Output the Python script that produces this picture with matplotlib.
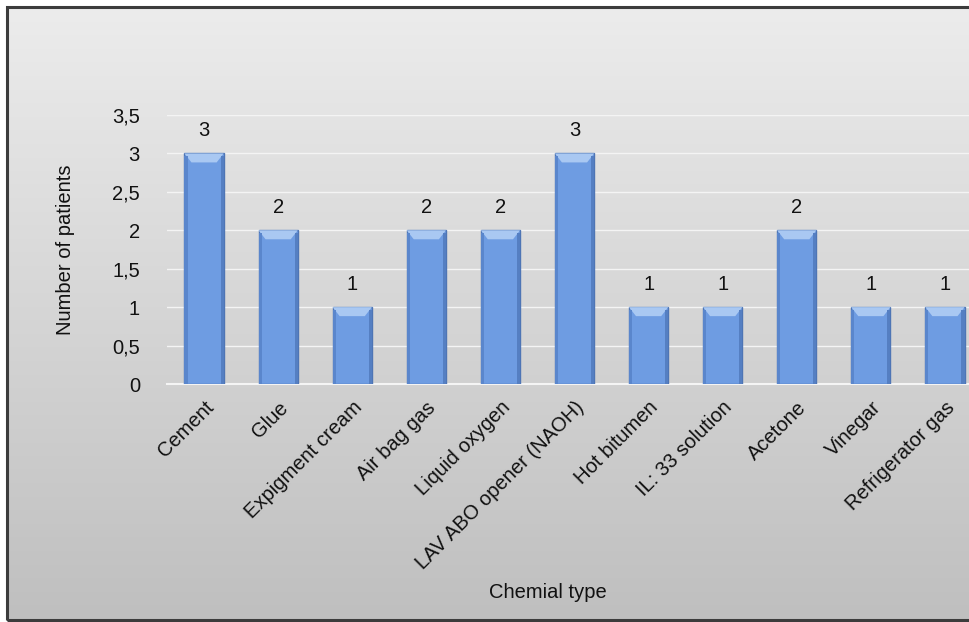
import numpy as np
import matplotlib
matplotlib.use("Agg")
import matplotlib.pyplot as plt
from matplotlib.patches import Rectangle, Polygon
from matplotlib.colors import LinearSegmentedColormap

plt.rcParams['font.family'] = ['Liberation Sans', 'DejaVu Sans']

categories = ["Cement", "Glue", "Expigment cream", "Air bag gas", "Liquid oxygen",
              "LAV ABO opener (NAOH)", "Hot bitumen", "IL: 33 solution", "Acetone",
              "Vinegar", "Refrigerator gas"]
patients = [3, 2, 1, 2, 2, 3, 1, 1, 2, 1, 1]
y_ticks = [0, 0.5, 1, 1.5, 2, 2.5, 3, 3.5]
y_tick_labels = ["0", "0,5", "1", "1,5", "2", "2,5", "3", "3,5"]

FS = 14.5
W, H = 970, 622
fig = plt.figure(figsize=(W / 100, H / 100), dpi=100)

# Chart area background: vertical grey gradient inside a dark frame
bg = fig.add_axes([0, 0, 1, 1], zorder=0)
bg.set_axis_off()
grad = np.linspace(0, 1, 256).reshape(-1, 1)
cmap_bg = LinearSegmentedColormap.from_list("bg", ["#ececec", "#bfbfbf"])
x0, y0, x1, y1 = 7 / W, 2 / H, 1.02, 1 - 7 / H
bg.imshow(grad, cmap=cmap_bg, aspect="auto", extent=[x0, x1, y0, y1],
          transform=bg.transAxes, zorder=0)
bg.set_xlim(0, 1)
bg.set_ylim(0, 1)
bg.add_patch(Rectangle((x0, y0), x1 - x0, y1 - y0, fill=False,
                       edgecolor="#3c3c3c", linewidth=2.2, transform=bg.transAxes))

# Plot area
ax = fig.add_axes([167 / W, 1 - 384 / H, (982 - 167) / W, (384 - 115) / H], zorder=1)
ax.patch.set_alpha(0)
x = np.arange(len(categories))
bar_w = 0.53
bars = ax.bar(x, patients, width=bar_w, color="#6e9ce2", edgecolor="#4e75b5",
              linewidth=1.0, zorder=3)

# Bevel highlight at the top of each bar, derived from the bar geometry
px_per_unit = (384 - 115) / 3.5
bev_h = 9 / px_per_unit
bev_in = bar_w * 7 / 39
for b in bars:
    bx, bw, bh = b.get_x(), b.get_width(), b.get_height()
    top = Polygon([(bx, bh), (bx + bw, bh), (bx + bw - bev_in, bh - bev_h),
                   (bx + bev_in, bh - bev_h)], closed=True,
                  facecolor="#a9c8f2", edgecolor="none", zorder=4)
    ax.add_patch(top)
    left = Rectangle((bx, 0), bw * 0.08, bh - bev_h * 0.3, facecolor="#5a86cc",
                     edgecolor="none", zorder=4)
    right = Rectangle((bx + bw * 0.92, 0), bw * 0.08, bh - bev_h * 0.3,
                      facecolor="#557fc2", edgecolor="none", zorder=4)
    ax.add_patch(left)
    ax.add_patch(right)
    ax.annotate(f"{int(bh)}", (b.get_x() + bw / 2, bh), xytext=(0, 9.5),
                textcoords="offset points", ha="center", va="bottom",
                fontsize=FS, color="#111111")

ax.set_xlim(-0.5, len(categories) - 0.5)
ax.set_ylim(0, 3.5)
ax.set_yticks(y_ticks)
ax.set_yticklabels(y_tick_labels)
ax.tick_params(axis="y", length=0, pad=19.5, labelsize=FS, colors="#111111")
ax.set_xticks(x)
ax.set_xticklabels(categories, rotation=45, ha="right", rotation_mode="anchor",
                   fontsize=FS, color="#111111")
ax.tick_params(axis="x", length=0, pad=10)
ax.grid(axis="y", color="#f4f4f4", linewidth=1.0, zorder=0)
ax.set_axisbelow(True)
for s in ["top", "right", "left"]:
    ax.spines[s].set_visible(False)
ax.spines["bottom"].set_color("#f4f4f4")
ax.spines["bottom"].set_linewidth(1.5)

fig.text(66 / W, 1 - 250 / H, "Number of patients", rotation=90, ha="center",
         va="center", fontsize=FS, color="#111111")
fig.text(548 / W, 1 - 593 / H, "Chemial type", ha="center", va="center",
         fontsize=FS, color="#111111")

fig.savefig("out.png", dpi=100)
